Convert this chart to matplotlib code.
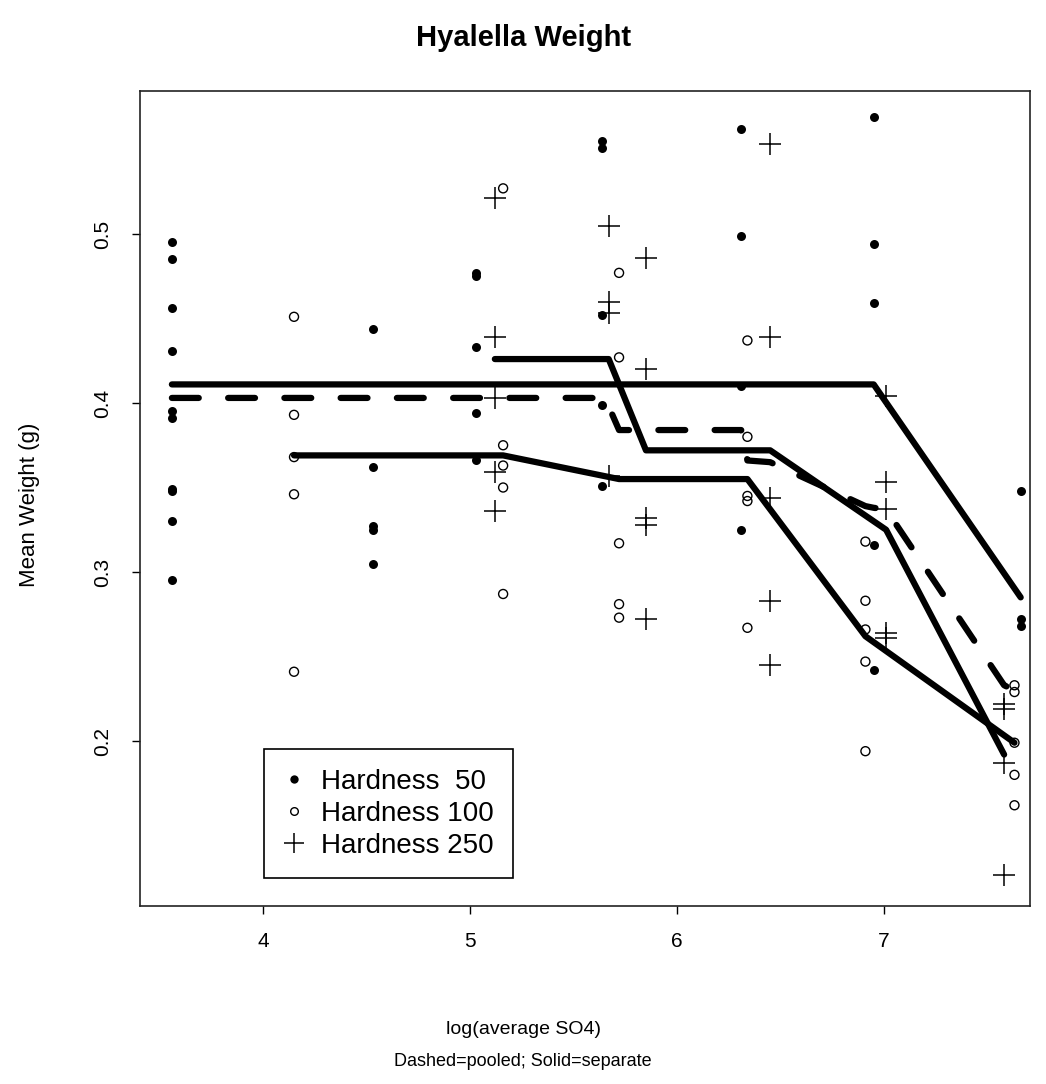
import numpy as np
import matplotlib.pyplot as plt
from matplotlib.lines import Line2D

plt.rcParams['font.family'] = ['Liberation Sans', 'DejaVu Sans']

# Observed mean weights by hardness level
h50_x = [3.56] * 10 + [4.53] * 5 + [5.03] * 5 + [5.64] * 5 + [6.31] * 4 + [6.95] * 5 + [7.66] * 3
h50_y = [0.495, 0.485, 0.456, 0.431, 0.395, 0.391, 0.349, 0.348, 0.330, 0.295,
         0.444, 0.362, 0.327, 0.325, 0.305,
         0.477, 0.475, 0.433, 0.394, 0.366,
         0.555, 0.551, 0.452, 0.399, 0.351,
         0.562, 0.499, 0.410, 0.325,
         0.569, 0.494, 0.459, 0.316, 0.242,
         0.348, 0.272, 0.268]

h100_x = [4.15] * 5 + [5.16] * 5 + [5.72] * 5 + [6.34] * 5 + [6.91] * 5 + [7.63] * 5
h100_y = [0.451, 0.393, 0.368, 0.346, 0.241,
          0.527, 0.375, 0.363, 0.350, 0.287,
          0.477, 0.427, 0.317, 0.281, 0.273,
          0.437, 0.380, 0.345, 0.342, 0.267,
          0.318, 0.283, 0.266, 0.247, 0.194,
          0.233, 0.229, 0.199, 0.180, 0.162]

h250_x = [5.12] * 5 + [5.67] * 4 + [5.85] * 5 + [6.45] * 5 + [7.01] * 5 + [7.58] * 4
h250_y = [0.521, 0.439, 0.403, 0.359, 0.336,
          0.505, 0.460, 0.453, 0.357,
          0.486, 0.420, 0.332, 0.328, 0.272,
          0.553, 0.439, 0.344, 0.283, 0.245,
          0.404, 0.353, 0.337, 0.264, 0.261,
          0.222, 0.219, 0.187, 0.121]

# Fitted curves: one per hardness level, plus the pooled fit
fit50_x = [3.56, 4.53, 5.03, 5.64, 6.31, 6.95, 7.66]
fit50_y = [0.411, 0.411, 0.411, 0.411, 0.411, 0.411, 0.285]
fit100_x = [4.15, 5.16, 5.72, 6.34, 6.91, 7.63]
fit100_y = [0.369, 0.369, 0.355, 0.355, 0.262, 0.199]
fit250_x = [5.12, 5.67, 5.85, 6.45, 7.01, 7.58]
fit250_y = [0.426, 0.426, 0.372, 0.372, 0.325, 0.192]
pooled_x = [3.56, 4.15, 4.53, 5.03, 5.12, 5.16, 5.64, 5.67, 5.72, 5.85,
            6.31, 6.34, 6.45, 6.91, 6.95, 7.01, 7.58, 7.63, 7.66]
pooled_y = [0.403, 0.403, 0.403, 0.403, 0.403, 0.403, 0.403, 0.398, 0.384, 0.384,
            0.384, 0.366, 0.365, 0.339, 0.338, 0.337, 0.233, 0.230, 0.228]

legend_labels = ['Hardness  50', 'Hardness 100', 'Hardness 250']

fig = plt.figure(figsize=(10.46, 10.84), dpi=100)
ax = fig.add_axes([140 / 1046, 1 - 906 / 1084, 890 / 1046, 815 / 1084])

ax.scatter(h50_x, h50_y, marker='o', s=42, color='black', linewidths=0, zorder=3)
ax.scatter(h100_x, h100_y, marker='o', s=42, facecolors='none', edgecolors='black',
           linewidths=1.0, zorder=3)
ax.scatter(h250_x, h250_y, marker='+', s=250, color='black', linewidths=1.1, zorder=3)

lw = 4.5
for fx, fy in [(fit50_x, fit50_y), (fit100_x, fit100_y), (fit250_x, fit250_y)]:
    ax.plot(fx, fy, color='black', lw=lw, solid_capstyle='round', solid_joinstyle='round')
ax.plot(pooled_x, pooled_y, color='black', lw=lw, ls=(0, (4.3, 4.7)),
        dash_capstyle='round', dash_joinstyle='round')

ax.set_xlim(3.406, 7.705)
ax.set_ylim(0.1024, 0.5846)
ax.set_xticks([4, 5, 6, 7])
ax.set_yticks([0.2, 0.3, 0.4, 0.5])
ax.set_xticklabels(['4', '5', '6', '7'])
ax.set_yticklabels(['0.2', '0.3', '0.4', '0.5'], rotation=90, va='center')
ax.tick_params(direction='out', length=6, width=1, labelsize=15)
ax.tick_params(axis='x', pad=13)
ax.tick_params(axis='y', pad=14)
for sp in ax.spines.values():
    sp.set_linewidth(1.2)
    sp.set_color('#222222')

handles = [
    Line2D([], [], ls='none', marker='o', ms=6, color='black', mew=0),
    Line2D([], [], ls='none', marker='o', ms=5.5, mfc='none', mec='black', mew=1.0),
    Line2D([], [], ls='none', marker='+', ms=15, color='black', mew=1.1),
]
leg = ax.legend(handles, legend_labels, loc='lower left',
                bbox_to_anchor=(0.139, 0.034), fontsize=20, fancybox=False,
                framealpha=1, edgecolor='black', handlelength=0.8,
                handletextpad=0.55, borderpad=0.7, labelspacing=0.22,
                borderaxespad=0)
leg.get_frame().set_linewidth(1.2)

fig.text(524 / 1046, 1 - 38 / 1084, 'Hyalella Weight', ha='center', va='center',
         fontsize=21, fontweight='bold')
fig.text(30 / 1046, 1 - 505 / 1084, 'Mean Weight (g)', ha='center', va='center',
         rotation=90, fontsize=16)
fig.text(523 / 1046, 1 - 1030 / 1084, 'log(average SO4)', ha='center', va='center',
         fontsize=14)
fig.text(523 / 1046, 1 - 1061 / 1084, 'Dashed=pooled; Solid=separate', ha='center',
         va='center', fontsize=13)

fig.savefig('out.png', dpi=100)
